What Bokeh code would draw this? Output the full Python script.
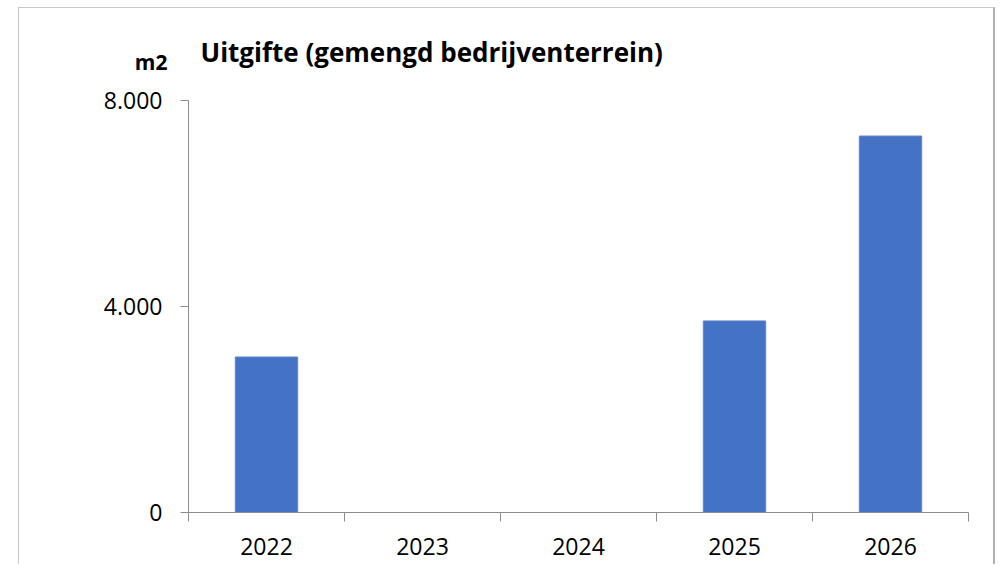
from bokeh.plotting import figure
from bokeh.models import (ColumnDataSource, Range1d, FactorRange, LinearAxis, CategoricalAxis,
                          FixedTicker, Label)
from bokeh.embed import file_html
from bokeh.resources import INLINE

years = ["2022", "2023", "2024", "2025", "2026"]
uitgifte_m2 = [3020, 0, 0, 3720, 7310]
y_ticks = [0, 4000, 8000]
y_tick_labels = ["0", "4.000", "8.000"]
title_text = "Uitgifte (gemengd bedrijventerrein)"
unit_text = "m2"

FONT = "Open Sans"
AXIS_COLOR = "#8c8c8c"

# layout geometry (pixels): frame spans the full height above the x axis,
# the value axis itself only covers 0..8000 over AXIS_PX pixels
FRAME_PX = 504
AXIS_PX = 412
Y_MAX = y_ticks[-1] * FRAME_PX / AXIS_PX
px_per_unit = AXIS_PX / y_ticks[-1]

src = ColumnDataSource(data=dict(year=years, value=uitgifte_m2))

p = figure(x_range=FactorRange(factors=years, range_padding=0),
           y_range=Range1d(0, Y_MAX),
           width=977, height=557,
           output_backend="svg", toolbar_location=None,
           x_axis_location=None, y_axis_location=None,
           min_border_left=169, min_border_right=28,
           min_border_top=0, min_border_bottom=557 - FRAME_PX,
           outline_line_color=None, background_fill_color="white",
           border_fill_color="white")
p.styles = {"margin-left": "18px", "margin-top": "7px",
            "border-top": "1px solid #c8c8c8", "border-left": "1px solid #c8c8c8",
            "border-right": "2px solid #b0b0b0"}

p.xgrid.visible = False
p.ygrid.visible = False

p.vbar(x="year", top="value", width=0.4, source=src,
       fill_color="#4472C4", line_color="#5f88d0", line_width=1)

# y axis
yax = LinearAxis(ticker=FixedTicker(ticks=y_ticks), bounds=(y_ticks[0], y_ticks[-1]),
                 major_label_overrides={t: l for t, l in zip(y_ticks, y_tick_labels)})
yax.axis_line_color = AXIS_COLOR
yax.major_tick_line_color = AXIS_COLOR
yax.major_tick_out = 8
yax.major_tick_in = 0
yax.minor_tick_line_color = None
yax.major_label_standoff = 18
yax.major_label_text_font = FONT
yax.major_label_text_font_size = "23px"
yax.major_label_text_color = "#000000"
p.add_layout(yax, "left")

# unit label "m2" (outer left axis with a single labelled position, pulled inward)
unit_pos = (512 - 61) / px_per_unit
uax = LinearAxis(ticker=FixedTicker(ticks=[unit_pos]),
                 major_label_overrides={unit_pos: unit_text})
uax.axis_line_color = None
uax.major_tick_line_color = None
uax.minor_tick_line_color = None
uax.major_tick_out = 0
uax.major_tick_in = 0
uax.major_label_standoff = -67
uax.major_label_text_font = FONT
uax.major_label_text_font_size = "21px"
uax.major_label_text_font_style = "bold"
uax.major_label_text_color = "#000000"
p.add_layout(uax, "left")

# x axis: ticks at the boundaries between categories (synthetic coordinates 0..n)
edge_ax = LinearAxis(ticker=FixedTicker(ticks=list(range(len(years) + 1))),
                     major_label_overrides={i: "" for i in range(len(years) + 1)})
edge_ax.axis_line_color = AXIS_COLOR
edge_ax.major_tick_line_color = AXIS_COLOR
edge_ax.major_tick_out = 9
edge_ax.major_tick_in = 0
edge_ax.minor_tick_line_color = None
edge_ax.major_label_text_font_size = "1px"
edge_ax.major_label_standoff = 0
p.add_layout(edge_ax, "below")

# x axis: category labels
cax = CategoricalAxis()
cax.axis_line_color = None
cax.major_tick_line_color = None
cax.major_label_standoff = 10
cax.major_label_text_font = FONT
cax.major_label_text_font_size = "23px"
cax.major_label_text_color = "#000000"
p.add_layout(cax, "below")

# title
p.add_layout(Label(x=12 / 156, y=(512 - 51) / px_per_unit, text=title_text,
                   text_font=FONT, text_font_size="26px", text_font_style="bold",
                   text_baseline="alphabetic", text_align="left", text_color="#000000"))

open("out.html", "w").write(file_html(p, INLINE))
